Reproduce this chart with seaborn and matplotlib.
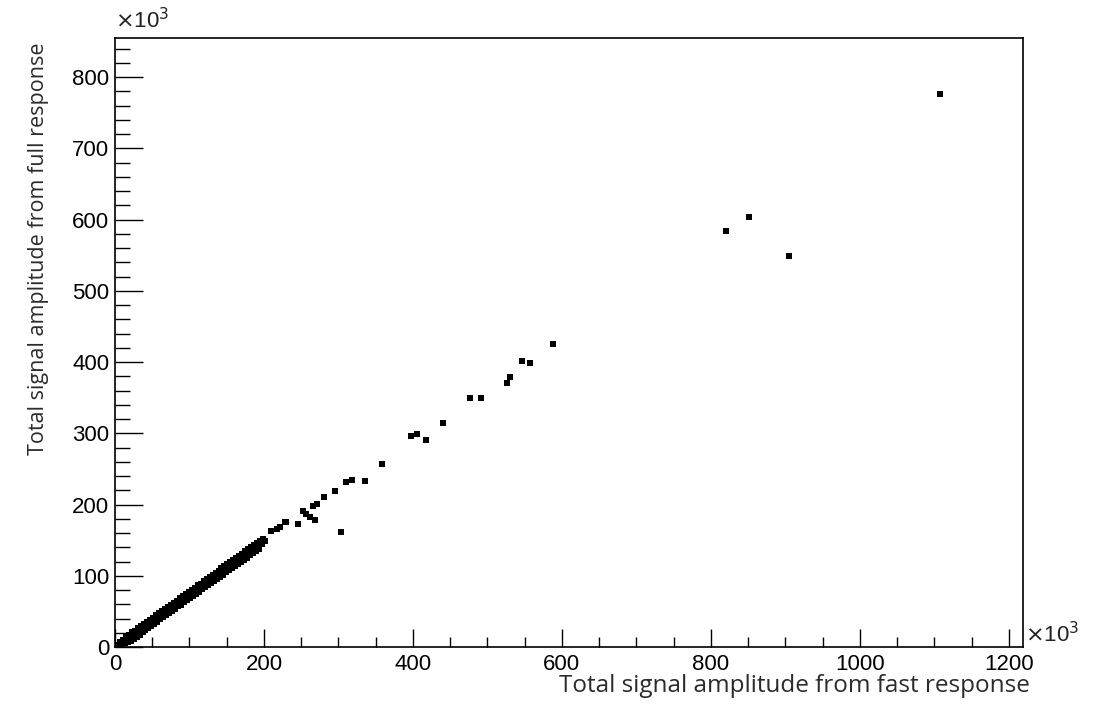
import matplotlib
matplotlib.use("Agg")
import matplotlib.pyplot as plt
import matplotlib.ticker as mticker
import seaborn as sns
import pandas as pd

# values in units of 10^3
# dense band near the origin (centre, lower edge, upper edge)
x_dense = [2, 3, 4, 5, 6, 7, 8, 9, 10, 11, 12, 13, 14, 15, 16, 18, 19, 20, 22, 23,
           25, 26, 28, 29, 31, 32, 34, 35, 37, 38, 40, 41, 43, 44, 46, 47, 49, 50, 52, 53,
           55, 56, 58, 59, 61, 62, 64, 65, 67, 68, 70, 71, 73, 74, 76, 77, 79, 80, 82, 84,
           85, 87, 88, 90, 92, 93, 95, 97, 98, 100, 102, 103, 105, 107, 108, 110, 112, 114, 115, 117,
           119, 121, 122, 124, 126, 128, 130, 131, 133, 135, 137, 139, 141, 143, 145, 147, 149, 151, 153, 155,
           157, 159, 161, 163, 165, 167, 169, 171, 174, 176, 178, 180, 183, 185, 187, 190, 192, 195, 198, 201]
y_dense = [1.0, 1.8, 2.2, 3.4, 3.2, 4.6, 4.3, 5.9, 5.1, 7.2, 6.5, 8.6, 7.9, 10.1, 9.0, 12.0, 10.8, 14.0, 13.0, 16.7,
           15.2, 19.0, 17.5, 21.2, 19.7, 23.5, 22.0, 25.7, 24.2, 28.0, 26.5, 30.2, 28.7, 32.5, 31.0, 34.7, 33.2, 37.0, 35.5, 39.2,
           37.7, 41.5, 40.0, 43.7, 42.2, 46.0, 44.5, 48.2, 46.7, 50.5, 49.0, 52.7, 51.2, 55.0, 53.5, 57.2, 55.7, 59.5, 58.0, 63.5,
           60.2, 64.7, 62.5, 67.0, 65.5, 69.2, 67.7, 72.2, 70.0, 74.5, 73.0, 76.7, 75.2, 79.7, 77.5, 82.0, 80.5, 85.0, 82.7, 87.2,
           85.7, 90.2, 88.0, 92.5, 91.0, 95.5, 94.0, 97.7, 96.2, 100.7, 99.2, 103.7, 102.2, 106.7, 105.2, 109.7, 108.2, 112.7, 111.2, 115.7,
           114.2, 118.7, 117.2, 121.7, 120.2, 124.7, 123.2, 127.7, 127.0, 131.5, 130.0, 134.5, 133.7, 138.2, 136.7, 141.5, 140.5, 145.7, 144.5, 149.0]

x_lo = [5, 9, 13, 17, 21, 25, 29, 33, 37, 41, 45, 49, 53, 57, 61, 65, 69, 73, 77, 81,
        85, 89, 93, 97, 101, 105, 109, 113, 117, 121, 125, 129, 133, 137, 141, 145, 149, 153, 157, 161,
        165, 169, 173, 177, 181, 185, 189, 193]
y_lo = [2.0, 3.5, 5.2, 6.4, 8.9, 11.5, 14.6, 17.5, 20.6, 23.5, 26.6, 29.5, 32.8, 35.6, 38.8, 41.5, 44.9, 47.6, 50.8, 53.6,
        56.9, 59.6, 62.8, 65.6, 68.9, 71.6, 74.8, 77.6, 80.9, 83.6, 86.8, 89.6, 92.9, 95.6, 98.8, 101.6, 104.9, 107.6, 110.8, 113.6,
        116.9, 119.6, 122.8, 125.6, 128.9, 131.6, 134.8, 137.6]

x_hi = [3, 7, 11, 15, 19, 23, 27, 31, 35, 39, 43, 47, 51, 55, 59, 63, 67, 71, 75, 79,
        83, 87, 91, 95, 99, 103, 107, 111, 115, 119, 123, 127, 131, 135, 139, 143, 147, 151, 155, 159,
        163, 167, 171, 175, 179, 183, 187, 191, 195, 199]
y_hi = [3.0, 6.8, 10.5, 13.9, 17.1, 20.4, 23.2, 26.4, 29.1, 32.4, 35.2, 38.4, 41.1, 44.4, 47.2, 50.4, 53.1, 56.4, 59.2, 62.4,
        65.1, 68.4, 71.2, 74.4, 77.1, 80.4, 83.2, 86.4, 89.1, 92.4, 95.2, 98.4, 101.1, 104.4, 107.2, 110.4, 113.1, 116.4, 119.2, 122.4,
        125.1, 128.4, 131.2, 134.4, 137.1, 140.4, 143.2, 146.4, 149.1, 151.5]

# sparse points further out
x_sparse = [209, 218, 221, 228, 230, 246, 253, 257, 262, 266, 268, 271, 280, 295, 304,
            310, 318, 336, 358, 398, 406, 418, 441, 477, 492, 526, 530, 547, 557, 588,
            820, 851, 905, 1108]
y_sparse = [163, 166, 169, 176, 176, 173, 191, 187, 183, 198, 179, 201, 210, 219, 161,
            231, 235, 233, 257, 296, 299, 290, 315, 349, 349, 371, 379, 402, 399, 426,
            584, 604, 549, 776]

df = pd.DataFrame({
    'fast': x_dense + x_lo + x_hi + x_sparse,
    'full': y_dense + y_lo + y_hi + y_sparse,
})

sns.set_style('white')
plt.rcParams['font.family'] = ['Liberation Sans', 'DejaVu Sans']

fig = plt.figure(figsize=(10.99, 7.14), dpi=100)
ax = fig.add_axes([0.1046, 0.0938, 0.8263, 0.853])

sns.scatterplot(data=df, x='fast', y='full', ax=ax,
                marker='s', s=15, color='black', linewidth=0)

ax.set_xlim(0, 1219)
ax.set_ylim(0, 855)
ax.xaxis.set_major_locator(mticker.MultipleLocator(200))
ax.xaxis.set_minor_locator(mticker.MultipleLocator(50))
ax.yaxis.set_major_locator(mticker.MultipleLocator(100))
ax.yaxis.set_minor_locator(mticker.MultipleLocator(20))

ax.tick_params(axis='x', which='major', direction='in', length=13, width=1, labelsize=16, pad=5)
ax.tick_params(axis='x', which='minor', direction='in', length=7, width=1)
ax.tick_params(axis='y', which='major', direction='in', length=20, width=1, labelsize=16, pad=4)
ax.tick_params(axis='y', which='minor', direction='in', length=11, width=1)
ax.tick_params(which='both', bottom=True, left=True, top=False, right=False, colors='black')

for sp in ax.spines.values():
    sp.set_color('black')
    sp.set_linewidth(1.2)

# axis titles, right-aligned at the axis ends (ROOT style)
ax.set_xlabel('Total signal amplitude from fast response', family=['Open Sans', 'DejaVu Sans'],
              fontsize=17.5, color='#2b2b2b', ha='right')
ax.xaxis.set_label_coords(1.008, -0.045, transform=ax.transAxes)
ax.xaxis.label.set_va('top')
ax.set_ylabel('Total signal amplitude from full response', family=['Open Sans', 'DejaVu Sans'],
              fontsize=15.5, color='#2b2b2b', ha='right')
ax.yaxis.set_label_coords(-0.0725, 0.992, transform=ax.transAxes)

ax.text(0.0, 1.008, r'$\times$10$^3$', transform=ax.transAxes, fontsize=16,
        ha='left', va='bottom', color='#222222')
ax.text(1.002, 0.0, r'$\times$10$^3$', transform=ax.transAxes, fontsize=16,
        ha='left', va='bottom', color='#222222')

fig.savefig('out.png', dpi=100)
